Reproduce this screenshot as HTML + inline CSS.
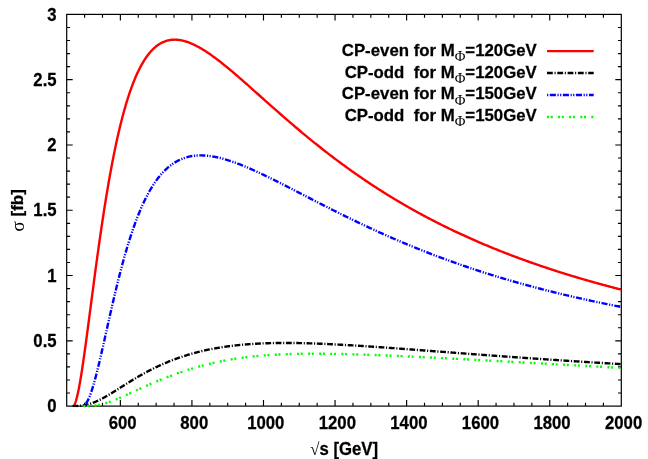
<!DOCTYPE html>
<html><head><meta charset="utf-8"><title>chart</title>
<style>
html,body{margin:0;padding:0;background:#fff;}
svg{display:block;will-change:transform;}
text{font-family:"Liberation Sans",sans-serif;font-weight:bold;fill:#000;stroke:#000;stroke-width:0.25px;}
.sym{font-family:"Liberation Serif",serif;font-weight:normal;stroke:none;}
</style></head><body>
<svg width="648" height="459" viewBox="0 0 648 459">
<rect width="648" height="459" fill="#fff"/>
<g stroke="#000" stroke-width="1.2" fill="none">
<rect x="66.7" y="14.4" width="554.5999999999999" height="391.70000000000005"/>
<path d="M84.59,406.1v-3.3 M84.59,14.4v3.3 M102.48,406.1v-3.3 M102.48,14.4v3.3 M120.37,406.1v-6.0 M120.37,14.4v6.0 M138.26,406.1v-3.3 M138.26,14.4v3.3 M156.15,406.1v-3.3 M156.15,14.4v3.3 M174.04,406.1v-3.3 M174.04,14.4v3.3 M191.93,406.1v-6.0 M191.93,14.4v6.0 M209.82,406.1v-3.3 M209.82,14.4v3.3 M227.71,406.1v-3.3 M227.71,14.4v3.3 M245.60,406.1v-3.3 M245.60,14.4v3.3 M263.49,406.1v-6.0 M263.49,14.4v6.0 M281.38,406.1v-3.3 M281.38,14.4v3.3 M299.27,406.1v-3.3 M299.27,14.4v3.3 M317.16,406.1v-3.3 M317.16,14.4v3.3 M335.05,406.1v-6.0 M335.05,14.4v6.0 M352.95,406.1v-3.3 M352.95,14.4v3.3 M370.84,406.1v-3.3 M370.84,14.4v3.3 M388.73,406.1v-3.3 M388.73,14.4v3.3 M406.62,406.1v-6.0 M406.62,14.4v6.0 M424.51,406.1v-3.3 M424.51,14.4v3.3 M442.40,406.1v-3.3 M442.40,14.4v3.3 M460.29,406.1v-3.3 M460.29,14.4v3.3 M478.18,406.1v-6.0 M478.18,14.4v6.0 M496.07,406.1v-3.3 M496.07,14.4v3.3 M513.96,406.1v-3.3 M513.96,14.4v3.3 M531.85,406.1v-3.3 M531.85,14.4v3.3 M549.74,406.1v-6.0 M549.74,14.4v6.0 M567.63,406.1v-3.3 M567.63,14.4v3.3 M585.52,406.1v-3.3 M585.52,14.4v3.3 M603.41,406.1v-3.3 M603.41,14.4v3.3 M66.7,393.04h3.3 M621.3,393.04h-3.3 M66.7,379.99h3.3 M621.3,379.99h-3.3 M66.7,366.93h3.3 M621.3,366.93h-3.3 M66.7,353.87h3.3 M621.3,353.87h-3.3 M66.7,340.82h6.0 M621.3,340.82h-6.0 M66.7,327.76h3.3 M621.3,327.76h-3.3 M66.7,314.70h3.3 M621.3,314.70h-3.3 M66.7,301.65h3.3 M621.3,301.65h-3.3 M66.7,288.59h3.3 M621.3,288.59h-3.3 M66.7,275.53h6.0 M621.3,275.53h-6.0 M66.7,262.48h3.3 M621.3,262.48h-3.3 M66.7,249.42h3.3 M621.3,249.42h-3.3 M66.7,236.36h3.3 M621.3,236.36h-3.3 M66.7,223.31h3.3 M621.3,223.31h-3.3 M66.7,210.25h6.0 M621.3,210.25h-6.0 M66.7,197.19h3.3 M621.3,197.19h-3.3 M66.7,184.14h3.3 M621.3,184.14h-3.3 M66.7,171.08h3.3 M621.3,171.08h-3.3 M66.7,158.02h3.3 M621.3,158.02h-3.3 M66.7,144.97h6.0 M621.3,144.97h-6.0 M66.7,131.91h3.3 M621.3,131.91h-3.3 M66.7,118.85h3.3 M621.3,118.85h-3.3 M66.7,105.80h3.3 M621.3,105.80h-3.3 M66.7,92.74h3.3 M621.3,92.74h-3.3 M66.7,79.68h6.0 M621.3,79.68h-6.0 M66.7,66.63h3.3 M621.3,66.63h-3.3 M66.7,53.57h3.3 M621.3,53.57h-3.3 M66.7,40.51h3.3 M621.3,40.51h-3.3 M66.7,27.46h3.3 M621.3,27.46h-3.3" stroke-width="1.15"/>
</g>
<clipPath id="c"><rect x="66.7" y="12.4" width="554.5999999999999" height="394.90000000000003"/></clipPath>
<g clip-path="url(#c)" fill="none" stroke-linecap="butt" stroke-linejoin="round">
<path d="M73.00,406.10 L73.03,406.07 L73.10,406.05 L73.18,406.02 L73.26,405.98 L73.35,405.93 L73.45,405.87 L73.55,405.78 L73.65,405.69 L73.77,405.57 L73.88,405.43 L74.01,405.27 L74.14,405.08 L74.27,404.88 L74.41,404.64 L74.55,404.37 L74.70,404.08 L74.85,403.76 L75.00,403.40 L75.16,403.01 L75.33,402.58 L75.50,402.12 L75.67,401.62 L75.85,401.09 L76.03,400.51 L76.21,399.90 L76.40,399.24 L76.59,398.55 L76.79,397.81 L76.99,397.03 L77.19,396.20 L77.40,395.33 L77.61,394.42 L77.82,393.46 L78.04,392.45 L78.26,391.40 L78.49,390.31 L78.72,389.17 L78.95,387.98 L79.18,386.74 L79.42,385.46 L79.66,384.13 L79.91,382.76 L80.15,381.34 L80.40,379.88 L80.66,378.37 L80.92,376.81 L81.18,375.21 L81.44,373.56 L81.71,371.87 L81.98,370.14 L82.25,368.36 L82.52,366.54 L82.80,364.67 L83.08,362.77 L83.37,360.82 L83.66,358.84 L83.95,356.81 L84.24,354.74 L84.53,352.64 L84.83,350.50 L85.13,348.32 L85.44,346.11 L85.75,343.86 L86.06,341.58 L86.37,339.27 L86.68,336.92 L87.00,334.54 L87.32,332.13 L87.65,329.70 L87.97,327.23 L88.30,324.74 L88.63,322.22 L88.97,319.67 L89.30,317.10 L89.64,314.51 L89.98,311.90 L90.33,309.26 L90.67,306.60 L91.02,303.93 L91.38,301.24 L91.73,298.53 L92.09,295.80 L92.45,293.06 L92.81,290.30 L93.17,287.53 L93.54,284.75 L93.91,281.96 L94.28,279.16 L94.66,276.35 L95.03,273.53 L95.41,270.71 L95.79,267.88 L96.18,265.04 L96.56,262.20 L96.95,259.36 L97.34,256.51 L97.74,253.67 L98.13,250.82 L98.53,247.98 L98.93,245.13 L99.33,242.29 L99.74,239.45 L100.15,236.62 L100.56,233.79 L100.97,230.96 L101.38,228.14 L101.80,225.33 L102.22,222.53 L102.64,219.74 L103.06,216.95 L103.49,214.18 L103.91,211.41 L104.34,208.66 L104.78,205.92 L105.21,203.20 L105.65,200.48 L106.09,197.78 L106.53,195.10 L106.97,192.43 L107.41,189.78 L107.86,187.14 L108.31,184.52 L108.76,181.92 L109.22,179.33 L109.67,176.77 L110.13,174.22 L110.59,171.69 L111.05,169.19 L111.52,166.70 L111.98,164.23 L112.45,161.79 L112.92,159.36 L113.40,156.96 L113.87,154.58 L114.35,152.22 L114.83,149.88 L115.31,147.57 L115.79,145.28 L116.27,143.02 L116.76,140.77 L117.25,138.56 L117.74,136.36 L118.24,134.19 L118.73,132.05 L119.23,129.93 L119.73,127.83 L120.23,125.76 L120.73,123.72 L121.24,121.70 L121.74,119.71 L122.25,117.74 L122.76,115.80 L123.28,113.89 L123.79,112.00 L124.31,110.13 L124.83,108.30 L125.35,106.49 L125.87,104.70 L126.40,102.94 L126.92,101.21 L127.45,99.51 L127.98,97.83 L128.52,96.18 L129.05,94.55 L129.59,92.95 L130.13,91.38 L130.67,89.83 L131.21,88.31 L131.75,86.81 L132.30,85.35 L132.85,83.90 L133.40,82.49 L133.95,81.10 L134.50,79.73 L135.06,78.39 L135.61,77.08 L136.17,75.79 L136.73,74.53 L137.29,73.29 L137.86,72.08 L138.43,70.90 L138.99,69.74 L139.56,68.60 L140.14,67.49 L140.71,66.40 L141.29,65.34 L141.86,64.30 L142.44,63.29 L143.02,62.30 L143.61,61.33 L144.19,60.39 L144.78,59.47 L145.37,58.58 L145.96,57.71 L146.55,56.86 L147.14,56.04 L147.74,55.23 L148.33,54.45 L148.93,53.70 L149.53,52.96 L150.14,52.25 L150.74,51.56 L151.35,50.89 L151.95,50.24 L152.56,49.62 L153.17,49.01 L153.79,48.43 L154.40,47.86 L155.02,47.32 L155.64,46.80 L156.26,46.30 L156.88,45.81 L157.50,45.35 L158.13,44.91 L158.75,44.49 L159.38,44.08 L160.01,43.70 L160.64,43.33 L161.28,42.98 L161.91,42.66 L162.55,42.35 L163.19,42.05 L163.83,41.78 L164.47,41.52 L165.12,41.28 L165.76,41.06 L166.41,40.86 L167.06,40.67 L167.71,40.50 L168.36,40.34 L169.02,40.21 L169.67,40.08 L170.33,39.98 L170.99,39.89 L171.65,39.81 L172.31,39.75 L172.98,39.71 L173.64,39.68 L174.31,39.67 L174.98,39.67 L175.65,39.68 L176.32,39.71 L176.99,39.75 L177.67,39.81 L178.35,39.88 L179.03,39.97 L179.71,40.06 L180.39,40.18 L181.07,40.30 L181.76,40.44 L182.44,40.59 L183.13,40.75 L183.82,40.92 L184.51,41.11 L185.21,41.31 L185.90,41.52 L186.60,41.74 L187.30,41.97 L188.00,42.22 L188.70,42.47 L189.40,42.74 L190.11,43.02 L190.81,43.31 L191.52,43.61 L192.23,43.91 L192.94,44.23 L193.65,44.56 L194.37,44.90 L195.08,45.25 L195.80,45.61 L196.52,45.98 L197.24,46.36 L197.96,46.74 L198.69,47.14 L199.41,47.54 L200.14,47.95 L200.87,48.38 L201.60,48.81 L202.33,49.24 L203.06,49.69 L203.79,50.14 L204.53,50.61 L205.27,51.08 L206.01,51.55 L206.75,52.04 L207.49,52.53 L208.23,53.03 L208.98,53.54 L209.73,54.05 L210.47,54.57 L211.22,55.10 L211.98,55.63 L212.73,56.17 L213.48,56.72 L214.24,57.27 L215.00,57.83 L215.76,58.39 L216.52,58.96 L217.28,59.54 L218.04,60.12 L218.81,60.71 L219.57,61.30 L220.34,61.90 L221.11,62.50 L221.88,63.11 L222.65,63.73 L223.43,64.34 L224.20,64.97 L224.98,65.60 L225.76,66.23 L226.54,66.86 L227.32,67.51 L228.10,68.15 L228.89,68.80 L229.67,69.46 L230.46,70.11 L231.25,70.77 L232.04,71.44 L232.83,72.11 L233.63,72.78 L234.42,73.46 L235.22,74.14 L236.01,74.82 L236.81,75.51 L237.61,76.20 L238.42,76.89 L239.22,77.59 L240.03,78.29 L240.83,78.99 L241.64,79.69 L242.45,80.40 L243.26,81.11 L244.07,81.82 L244.89,82.54 L245.70,83.26 L246.52,83.98 L247.34,84.70 L248.16,85.42 L248.98,86.15 L249.80,86.88 L250.62,87.61 L251.45,88.34 L252.27,89.08 L253.10,89.82 L253.93,90.55 L254.76,91.29 L255.60,92.03 L256.43,92.78 L257.26,93.52 L258.10,94.27 L258.94,95.02 L259.78,95.76 L260.62,96.51 L261.46,97.27 L262.31,98.02 L263.15,98.77 L264.00,99.53 L264.85,100.28 L265.70,101.04 L266.55,101.80 L267.40,102.55 L268.25,103.31 L269.11,104.07 L269.96,104.83 L270.82,105.59 L271.68,106.36 L272.54,107.12 L273.40,107.88 L274.27,108.64 L275.13,109.41 L276.00,110.17 L276.86,110.93 L277.73,111.70 L278.60,112.46 L279.48,113.23 L280.35,113.99 L281.22,114.76 L282.10,115.52 L282.98,116.29 L283.85,117.05 L284.73,117.82 L285.62,118.58 L286.50,119.35 L287.38,120.11 L288.27,120.88 L289.16,121.64 L290.04,122.41 L290.93,123.17 L291.82,123.93 L292.72,124.70 L293.61,125.46 L294.50,126.22 L295.40,126.98 L296.30,127.74 L297.20,128.51 L298.10,129.27 L299.00,130.03 L299.90,130.78 L300.81,131.54 L301.71,132.30 L302.62,133.06 L303.53,133.81 L304.44,134.57 L305.35,135.32 L306.26,136.08 L307.18,136.83 L308.09,137.58 L309.01,138.33 L309.93,139.09 L310.84,139.84 L311.77,140.58 L312.69,141.33 L313.61,142.08 L314.53,142.82 L315.46,143.57 L316.39,144.31 L317.32,145.05 L318.25,145.80 L319.18,146.54 L320.11,147.28 L321.04,148.01 L321.98,148.75 L322.92,149.49 L323.85,150.22 L324.79,150.96 L325.73,151.69 L326.67,152.42 L327.62,153.15 L328.56,153.88 L329.51,154.60 L330.45,155.33 L331.40,156.05 L332.35,156.78 L333.30,157.50 L334.25,158.22 L335.21,158.94 L336.16,159.66 L337.12,160.37 L338.08,161.09 L339.04,161.80 L339.99,162.51 L340.96,163.22 L341.92,163.93 L342.88,164.64 L343.85,165.34 L344.81,166.05 L345.78,166.75 L346.75,167.45 L347.72,168.15 L348.69,168.85 L349.67,169.55 L350.64,170.24 L351.62,170.94 L352.59,171.63 L353.57,172.32 L354.55,173.01 L355.53,173.69 L356.51,174.38 L357.49,175.06 L358.48,175.75 L359.46,176.43 L360.45,177.11 L361.44,177.78 L362.43,178.46 L363.42,179.13 L364.41,179.81 L365.40,180.48 L366.40,181.15 L367.40,181.81 L368.39,182.48 L369.39,183.14 L370.39,183.81 L371.39,184.47 L372.39,185.13 L373.40,185.78 L374.40,186.44 L375.41,187.09 L376.41,187.74 L377.42,188.39 L378.43,189.04 L379.44,189.69 L380.45,190.33 L381.47,190.98 L382.48,191.62 L383.50,192.26 L384.52,192.90 L385.53,193.53 L386.55,194.17 L387.57,194.80 L388.60,195.43 L389.62,196.06 L390.64,196.69 L391.67,197.31 L392.70,197.94 L393.73,198.56 L394.76,199.18 L395.79,199.80 L396.82,200.41 L397.85,201.03 L398.89,201.64 L399.92,202.25 L400.96,202.86 L402.00,203.47 L403.04,204.08 L404.08,204.68 L405.12,205.28 L406.16,205.88 L407.21,206.48 L408.25,207.08 L409.30,207.68 L410.35,208.27 L411.40,208.86 L412.45,209.45 L413.50,210.04 L414.55,210.63 L415.60,211.21 L416.66,211.79 L417.72,212.37 L418.77,212.95 L419.83,213.53 L420.89,214.11 L421.95,214.68 L423.02,215.25 L424.08,215.82 L425.15,216.39 L426.21,216.96 L427.28,217.52 L428.35,218.09 L429.42,218.65 L430.49,219.21 L431.56,219.77 L432.64,220.32 L433.71,220.88 L434.79,221.43 L435.86,221.98 L436.94,222.53 L438.02,223.08 L439.10,223.62 L440.18,224.17 L441.27,224.71 L442.35,225.25 L443.44,225.79 L444.52,226.33 L445.61,226.86 L446.70,227.39 L447.79,227.93 L448.88,228.46 L449.97,228.99 L451.07,229.51 L452.16,230.04 L453.26,230.56 L454.36,231.08 L455.45,231.60 L456.55,232.12 L457.65,232.64 L458.76,233.15 L459.86,233.66 L460.96,234.18 L462.07,234.69 L463.18,235.19 L464.28,235.70 L465.39,236.20 L466.50,236.71 L467.62,237.21 L468.73,237.71 L469.84,238.21 L470.96,238.70 L472.07,239.20 L473.19,239.69 L474.31,240.18 L475.43,240.67 L476.55,241.16 L477.67,241.65 L478.79,242.13 L479.92,242.62 L481.04,243.10 L482.17,243.58 L483.30,244.06 L484.43,244.53 L485.56,245.01 L486.69,245.48 L487.82,245.95 L488.96,246.42 L490.09,246.89 L491.23,247.36 L492.36,247.83 L493.50,248.29 L494.64,248.75 L495.78,249.21 L496.92,249.67 L498.07,250.13 L499.21,250.59 L500.36,251.04 L501.50,251.50 L502.65,251.95 L503.80,252.40 L504.95,252.85 L506.10,253.29 L507.25,253.74 L508.40,254.18 L509.56,254.63 L510.71,255.07 L511.87,255.51 L513.03,255.94 L514.19,256.38 L515.35,256.82 L516.51,257.25 L517.67,257.68 L518.84,258.11 L520.00,258.54 L521.17,258.97 L522.33,259.40 L523.50,259.82 L524.67,260.24 L525.84,260.66 L527.01,261.09 L528.19,261.50 L529.36,261.92 L530.53,262.34 L531.71,262.75 L532.89,263.17 L534.07,263.58 L535.24,263.99 L536.43,264.40 L537.61,264.80 L538.79,265.21 L539.97,265.61 L541.16,266.02 L542.35,266.42 L543.53,266.82 L544.72,267.22 L545.91,267.62 L547.10,268.01 L548.29,268.41 L549.49,268.80 L550.68,269.19 L551.88,269.59 L553.07,269.98 L554.27,270.36 L555.47,270.75 L556.67,271.14 L557.87,271.52 L559.07,271.90 L560.27,272.28 L561.48,272.67 L562.68,273.04 L563.89,273.42 L565.10,273.80 L566.30,274.17 L567.51,274.55 L568.73,274.92 L569.94,275.29 L571.15,275.66 L572.36,276.03 L573.58,276.40 L574.80,276.76 L576.01,277.13 L577.23,277.49 L578.45,277.85 L579.67,278.21 L580.89,278.57 L582.12,278.93 L583.34,279.29 L584.57,279.65 L585.79,280.00 L587.02,280.35 L588.25,280.71 L589.48,281.06 L590.71,281.41 L591.94,281.76 L593.17,282.10 L594.41,282.45 L595.64,282.80 L596.88,283.14 L598.12,283.48 L599.35,283.82 L600.59,284.16 L601.83,284.50 L603.08,284.84 L604.32,285.18 L605.56,285.51 L606.81,285.85 L608.05,286.18 L609.30,286.51 L610.55,286.85 L611.80,287.18 L613.05,287.50 L614.30,287.83 L615.55,288.16 L616.80,288.48 L618.06,288.81 L619.32,289.13 L620.57,289.45 L621.83,289.78 L623.09,290.10" stroke="#ff0000" stroke-width="2.4"/>
<path d="M72.60,406.10 L72.77,406.10 L72.95,406.09 L73.14,406.09 L73.33,406.09 L73.52,406.09 L73.72,406.09 L73.92,406.09 L74.12,406.08 L74.33,406.08 L74.55,406.08 L74.76,406.07 L74.98,406.07 L75.20,406.07 L75.43,406.06 L75.66,406.05 L75.89,406.05 L76.13,406.04 L76.37,406.03 L76.61,406.02 L76.85,406.01 L77.10,406.00 L77.36,405.99 L77.61,405.98 L77.87,405.96 L78.13,405.95 L78.40,405.93 L78.66,405.92 L78.94,405.90 L79.21,405.88 L79.49,405.85 L79.77,405.83 L80.05,405.80 L80.33,405.78 L80.62,405.75 L80.92,405.72 L81.21,405.68 L81.51,405.65 L81.81,405.61 L82.11,405.57 L82.42,405.53 L82.73,405.48 L83.04,405.43 L83.35,405.38 L83.67,405.33 L83.99,405.28 L84.31,405.22 L84.64,405.16 L84.96,405.10 L85.29,405.03 L85.63,404.96 L85.96,404.89 L86.30,404.81 L86.64,404.73 L86.99,404.65 L87.33,404.56 L87.68,404.47 L88.03,404.38 L88.39,404.28 L88.74,404.18 L89.10,404.08 L89.46,403.97 L89.83,403.86 L90.20,403.75 L90.56,403.63 L90.94,403.51 L91.31,403.38 L91.69,403.25 L92.07,403.12 L92.45,402.98 L92.83,402.84 L93.22,402.69 L93.60,402.54 L94.00,402.39 L94.39,402.23 L94.78,402.07 L95.18,401.91 L95.58,401.74 L95.99,401.56 L96.39,401.39 L96.80,401.20 L97.21,401.02 L97.62,400.83 L98.03,400.64 L98.45,400.44 L98.87,400.24 L99.29,400.03 L99.71,399.83 L100.14,399.61 L100.57,399.40 L101.00,399.18 L101.43,398.95 L101.86,398.73 L102.30,398.50 L102.74,398.26 L103.18,398.02 L103.62,397.78 L104.07,397.54 L104.52,397.29 L104.97,397.04 L105.42,396.78 L105.87,396.53 L106.33,396.27 L106.79,396.00 L107.25,395.73 L107.71,395.46 L108.18,395.19 L108.64,394.91 L109.11,394.64 L109.58,394.35 L110.06,394.07 L110.53,393.78 L111.01,393.49 L111.49,393.20 L111.97,392.91 L112.45,392.61 L112.94,392.31 L113.43,392.01 L113.92,391.70 L114.41,391.40 L114.90,391.09 L115.40,390.78 L115.90,390.47 L116.40,390.15 L116.90,389.84 L117.40,389.52 L117.91,389.20 L118.42,388.88 L118.93,388.56 L119.44,388.24 L119.95,387.91 L120.47,387.59 L120.99,387.26 L121.51,386.93 L122.03,386.60 L122.55,386.27 L123.08,385.94 L123.61,385.61 L124.14,385.27 L124.67,384.94 L125.20,384.60 L125.74,384.27 L126.27,383.93 L126.81,383.60 L127.36,383.26 L127.90,382.92 L128.44,382.58 L128.99,382.25 L129.54,381.91 L130.09,381.57 L130.64,381.23 L131.20,380.89 L131.75,380.55 L132.31,380.21 L132.87,379.87 L133.44,379.53 L134.00,379.20 L134.57,378.86 L135.13,378.52 L135.70,378.18 L136.27,377.84 L136.85,377.51 L137.42,377.17 L138.00,376.83 L138.58,376.50 L139.16,376.16 L139.74,375.83 L140.33,375.50 L140.91,375.16 L141.50,374.83 L142.09,374.50 L142.68,374.17 L143.27,373.84 L143.87,373.51 L144.47,373.18 L145.06,372.86 L145.67,372.53 L146.27,372.21 L146.87,371.88 L147.48,371.56 L148.09,371.24 L148.69,370.92 L149.31,370.60 L149.92,370.28 L150.53,369.97 L151.15,369.65 L151.77,369.34 L152.39,369.02 L153.01,368.71 L153.63,368.40 L154.26,368.10 L154.89,367.79 L155.51,367.48 L156.14,367.18 L156.78,366.88 L157.41,366.58 L158.05,366.28 L158.68,365.98 L159.32,365.68 L159.96,365.39 L160.61,365.10 L161.25,364.81 L161.90,364.52 L162.54,364.23 L163.19,363.94 L163.84,363.66 L164.50,363.38 L165.15,363.10 L165.81,362.82 L166.46,362.54 L167.12,362.27 L167.78,361.99 L168.45,361.72 L169.11,361.45 L169.78,361.18 L170.45,360.92 L171.12,360.65 L171.79,360.39 L172.46,360.13 L173.13,359.87 L173.81,359.62 L174.49,359.36 L175.17,359.11 L175.85,358.86 L176.53,358.61 L177.21,358.37 L177.90,358.12 L178.59,357.88 L179.28,357.64 L179.97,357.40 L180.66,357.16 L181.35,356.93 L182.05,356.70 L182.75,356.47 L183.45,356.24 L184.15,356.01 L184.85,355.79 L185.55,355.56 L186.26,355.34 L186.97,355.13 L187.67,354.91 L188.38,354.70 L189.10,354.48 L189.81,354.28 L190.52,354.07 L191.24,353.86 L191.96,353.66 L192.68,353.46 L193.40,353.26 L194.12,353.06 L194.85,352.86 L195.57,352.67 L196.30,352.48 L197.03,352.29 L197.76,352.10 L198.49,351.92 L199.23,351.74 L199.96,351.56 L200.70,351.38 L201.44,351.20 L202.18,351.03 L202.92,350.85 L203.66,350.68 L204.41,350.51 L205.15,350.35 L205.90,350.18 L206.65,350.02 L207.40,349.86 L208.16,349.70 L208.91,349.55 L209.67,349.39 L210.42,349.24 L211.18,349.09 L211.94,348.94 L212.70,348.80 L213.47,348.65 L214.23,348.51 L215.00,348.37 L215.77,348.23 L216.53,348.10 L217.31,347.96 L218.08,347.83 L218.85,347.70 L219.63,347.57 L220.40,347.45 L221.18,347.32 L221.96,347.20 L222.74,347.08 L223.53,346.96 L224.31,346.85 L225.10,346.73 L225.88,346.62 L226.67,346.51 L227.46,346.40 L228.26,346.29 L229.05,346.19 L229.84,346.08 L230.64,345.98 L231.44,345.88 L232.24,345.79 L233.04,345.69 L233.84,345.60 L234.64,345.51 L235.45,345.42 L236.26,345.33 L237.06,345.24 L237.87,345.16 L238.68,345.07 L239.50,344.99 L240.31,344.91 L241.13,344.83 L241.94,344.76 L242.76,344.68 L243.58,344.61 L244.40,344.54 L245.22,344.47 L246.05,344.40 L246.87,344.34 L247.70,344.28 L248.53,344.21 L249.36,344.15 L250.19,344.09 L251.02,344.04 L251.86,343.98 L252.69,343.93 L253.53,343.87 L254.37,343.82 L255.21,343.77 L256.05,343.73 L256.89,343.68 L257.74,343.63 L258.58,343.59 L259.43,343.55 L260.28,343.51 L261.13,343.47 L261.98,343.43 L262.83,343.40 L263.69,343.36 L264.54,343.33 L265.40,343.30 L266.26,343.27 L267.12,343.24 L267.98,343.22 L268.84,343.19 L269.71,343.17 L270.57,343.14 L271.44,343.12 L272.31,343.10 L273.18,343.08 L274.05,343.07 L274.92,343.05 L275.79,343.04 L276.67,343.02 L277.54,343.01 L278.42,343.00 L279.30,342.99 L280.18,342.98 L281.06,342.98 L281.95,342.97 L282.83,342.97 L283.72,342.96 L284.61,342.96 L285.50,342.96 L286.39,342.96 L287.28,342.96 L288.17,342.97 L289.07,342.97 L289.96,342.98 L290.86,342.98 L291.76,342.99 L292.66,343.00 L293.56,343.01 L294.46,343.02 L295.37,343.03 L296.27,343.04 L297.18,343.06 L298.09,343.07 L299.00,343.09 L299.91,343.11 L300.82,343.12 L301.73,343.14 L302.65,343.16 L303.56,343.18 L304.48,343.21 L305.40,343.23 L306.32,343.25 L307.24,343.28 L308.17,343.31 L309.09,343.33 L310.02,343.36 L310.94,343.39 L311.87,343.42 L312.80,343.45 L313.73,343.48 L314.66,343.51 L315.60,343.55 L316.53,343.58 L317.47,343.62 L318.41,343.65 L319.35,343.69 L320.29,343.73 L321.23,343.76 L322.17,343.80 L323.12,343.84 L324.06,343.88 L325.01,343.92 L325.96,343.97 L326.91,344.01 L327.86,344.05 L328.81,344.10 L329.76,344.14 L330.72,344.19 L331.67,344.23 L332.63,344.28 L333.59,344.33 L334.55,344.38 L335.51,344.43 L336.47,344.48 L337.44,344.53 L338.40,344.58 L339.37,344.63 L340.34,344.68 L341.31,344.74 L342.28,344.79 L343.25,344.84 L344.22,344.90 L345.20,344.95 L346.17,345.01 L347.15,345.07 L348.13,345.12 L349.11,345.18 L350.09,345.24 L351.07,345.30 L352.06,345.36 L353.04,345.42 L354.03,345.48 L355.01,345.54 L356.00,345.60 L356.99,345.66 L357.98,345.72 L358.98,345.79 L359.97,345.85 L360.96,345.91 L361.96,345.98 L362.96,346.04 L363.96,346.11 L364.96,346.17 L365.96,346.24 L366.96,346.31 L367.96,346.37 L368.97,346.44 L369.98,346.51 L370.98,346.58 L371.99,346.64 L373.00,346.71 L374.01,346.78 L375.03,346.85 L376.04,346.92 L377.06,346.99 L378.07,347.06 L379.09,347.13 L380.11,347.21 L381.13,347.28 L382.15,347.35 L383.18,347.42 L384.20,347.49 L385.22,347.57 L386.25,347.64 L387.28,347.71 L388.31,347.79 L389.34,347.86 L390.37,347.94 L391.40,348.01 L392.44,348.09 L393.47,348.16 L394.51,348.24 L395.55,348.31 L396.59,348.39 L397.63,348.47 L398.67,348.54 L399.71,348.62 L400.75,348.70 L401.80,348.77 L402.85,348.85 L403.89,348.93 L404.94,349.01 L405.99,349.08 L407.04,349.16 L408.10,349.24 L409.15,349.32 L410.21,349.40 L411.26,349.48 L412.32,349.56 L413.38,349.64 L414.44,349.72 L415.50,349.80 L416.56,349.88 L417.63,349.96 L418.69,350.04 L419.76,350.12 L420.82,350.20 L421.89,350.28 L422.96,350.36 L424.03,350.44 L425.11,350.52 L426.18,350.60 L427.25,350.68 L428.33,350.77 L429.41,350.85 L430.49,350.93 L431.56,351.01 L432.65,351.09 L433.73,351.18 L434.81,351.26 L435.89,351.34 L436.98,351.42 L438.07,351.50 L439.15,351.59 L440.24,351.67 L441.33,351.75 L442.43,351.84 L443.52,351.92 L444.61,352.00 L445.71,352.09 L446.80,352.17 L447.90,352.25 L449.00,352.33 L450.10,352.42 L451.20,352.50 L452.30,352.58 L453.41,352.67 L454.51,352.75 L455.62,352.84 L456.72,352.92 L457.83,353.00 L458.94,353.09 L460.05,353.17 L461.16,353.25 L462.28,353.34 L463.39,353.42 L464.51,353.51 L465.62,353.59 L466.74,353.67 L467.86,353.76 L468.98,353.84 L470.10,353.93 L471.22,354.01 L472.35,354.09 L473.47,354.18 L474.60,354.26 L475.73,354.35 L476.85,354.43 L477.98,354.51 L479.11,354.60 L480.25,354.68 L481.38,354.77 L482.51,354.85 L483.65,354.93 L484.79,355.02 L485.92,355.10 L487.06,355.18 L488.20,355.27 L489.34,355.35 L490.49,355.44 L491.63,355.52 L492.77,355.60 L493.92,355.69 L495.07,355.77 L496.21,355.86 L497.36,355.94 L498.51,356.02 L499.67,356.11 L500.82,356.19 L501.97,356.27 L503.13,356.36 L504.28,356.44 L505.44,356.52 L506.60,356.61 L507.76,356.69 L508.92,356.77 L510.08,356.86 L511.25,356.94 L512.41,357.02 L513.58,357.11 L514.74,357.19 L515.91,357.27 L517.08,357.36 L518.25,357.44 L519.42,357.52 L520.59,357.60 L521.77,357.69 L522.94,357.77 L524.12,357.85 L525.29,357.93 L526.47,358.02 L527.65,358.10 L528.83,358.18 L530.01,358.26 L531.20,358.35 L532.38,358.43 L533.57,358.51 L534.75,358.59 L535.94,358.67 L537.13,358.75 L538.32,358.84 L539.51,358.92 L540.70,359.00 L541.89,359.08 L543.09,359.16 L544.28,359.24 L545.48,359.33 L546.67,359.41 L547.87,359.49 L549.07,359.57 L550.27,359.65 L551.48,359.73 L552.68,359.81 L553.88,359.89 L555.09,359.97 L556.29,360.05 L557.50,360.13 L558.71,360.21 L559.92,360.29 L561.13,360.37 L562.34,360.45 L563.56,360.53 L564.77,360.61 L565.99,360.69 L567.20,360.77 L568.42,360.85 L569.64,360.93 L570.86,361.01 L572.08,361.09 L573.30,361.17 L574.52,361.25 L575.75,361.33 L576.97,361.41 L578.20,361.49 L579.43,361.56 L580.66,361.64 L581.89,361.72 L583.12,361.80 L584.35,361.88 L585.58,361.96 L586.82,362.03 L588.05,362.11 L589.29,362.19 L590.53,362.27 L591.77,362.35 L593.00,362.42 L594.25,362.50 L595.49,362.58 L596.73,362.66 L597.98,362.73 L599.22,362.81 L600.47,362.89 L601.71,362.96 L602.96,363.04 L604.21,363.12 L605.46,363.19 L606.72,363.27 L607.97,363.35 L609.22,363.42 L610.48,363.50 L611.73,363.57 L612.99,363.65 L614.25,363.73 L615.51,363.80 L616.77,363.88 L618.03,363.95 L619.29,364.03 L620.56,364.10 L621.82,364.18 L623.09,364.25" stroke="#000" stroke-width="2.4" stroke-dasharray="5.8 1.7 1.1 1.7"/>
<path d="M84.50,406.10 L84.64,404.93 L84.82,404.77 L85.00,404.60 L85.19,404.40 L85.38,404.20 L85.57,403.97 L85.77,403.73 L85.97,403.46 L86.17,403.18 L86.38,402.88 L86.59,402.57 L86.80,402.23 L87.02,401.86 L87.24,401.48 L87.47,401.08 L87.69,400.65 L87.92,400.20 L88.16,399.72 L88.40,399.22 L88.64,398.70 L88.88,398.15 L89.13,397.58 L89.38,396.99 L89.63,396.36 L89.89,395.71 L90.15,395.04 L90.41,394.34 L90.67,393.61 L90.94,392.86 L91.21,392.08 L91.49,391.27 L91.76,390.44 L92.04,389.58 L92.33,388.69 L92.61,387.77 L92.90,386.83 L93.19,385.87 L93.48,384.87 L93.78,383.85 L94.08,382.81 L94.38,381.73 L94.69,380.63 L94.99,379.51 L95.30,378.36 L95.62,377.18 L95.93,375.98 L96.25,374.76 L96.57,373.51 L96.90,372.24 L97.22,370.94 L97.55,369.62 L97.88,368.28 L98.21,366.91 L98.55,365.52 L98.89,364.11 L99.23,362.68 L99.58,361.23 L99.92,359.76 L100.27,358.27 L100.62,356.76 L100.98,355.23 L101.33,353.68 L101.69,352.11 L102.05,350.53 L102.41,348.93 L102.78,347.32 L103.15,345.69 L103.52,344.04 L103.89,342.38 L104.27,340.70 L104.65,339.02 L105.03,337.32 L105.41,335.61 L105.79,333.88 L106.18,332.15 L106.57,330.40 L106.96,328.65 L107.36,326.88 L107.75,325.11 L108.15,323.33 L108.55,321.54 L108.95,319.75 L109.36,317.95 L109.77,316.14 L110.18,314.33 L110.59,312.52 L111.00,310.70 L111.42,308.87 L111.84,307.05 L112.26,305.22 L112.68,303.39 L113.11,301.56 L113.53,299.73 L113.96,297.90 L114.39,296.07 L114.83,294.24 L115.26,292.41 L115.70,290.58 L116.14,288.76 L116.58,286.94 L117.03,285.12 L117.48,283.31 L117.92,281.50 L118.37,279.69 L118.83,277.89 L119.28,276.10 L119.74,274.31 L120.20,272.53 L120.66,270.76 L121.12,268.99 L121.59,267.24 L122.05,265.49 L122.52,263.74 L122.99,262.01 L123.47,260.29 L123.94,258.57 L124.42,256.87 L124.90,255.18 L125.38,253.49 L125.86,251.82 L126.35,250.16 L126.84,248.51 L127.33,246.87 L127.82,245.24 L128.31,243.63 L128.81,242.03 L129.30,240.44 L129.80,238.86 L130.30,237.30 L130.81,235.75 L131.31,234.22 L131.82,232.70 L132.33,231.19 L132.84,229.69 L133.35,228.21 L133.86,226.75 L134.38,225.30 L134.90,223.86 L135.42,222.44 L135.94,221.04 L136.47,219.65 L136.99,218.27 L137.52,216.91 L138.05,215.57 L138.58,214.24 L139.11,212.93 L139.65,211.63 L140.19,210.35 L140.72,209.08 L141.27,207.83 L141.81,206.60 L142.35,205.38 L142.90,204.18 L143.45,202.99 L144.00,201.82 L144.55,200.67 L145.10,199.53 L145.66,198.41 L146.22,197.31 L146.77,196.22 L147.34,195.14 L147.90,194.09 L148.46,193.05 L149.03,192.02 L149.60,191.01 L150.17,190.02 L150.74,189.05 L151.31,188.09 L151.89,187.14 L152.46,186.21 L153.04,185.30 L153.62,184.40 L154.21,183.52 L154.79,182.66 L155.38,181.81 L155.96,180.97 L156.55,180.15 L157.14,179.35 L157.74,178.56 L158.33,177.79 L158.93,177.03 L159.53,176.29 L160.13,175.56 L160.73,174.85 L161.33,174.15 L161.93,173.47 L162.54,172.80 L163.15,172.15 L163.76,171.51 L164.37,170.88 L164.98,170.27 L165.60,169.68 L166.22,169.09 L166.84,168.53 L167.46,167.97 L168.08,167.43 L168.70,166.90 L169.33,166.39 L169.95,165.89 L170.58,165.40 L171.21,164.93 L171.84,164.47 L172.48,164.02 L173.11,163.58 L173.75,163.16 L174.39,162.75 L175.03,162.35 L175.67,161.97 L176.31,161.60 L176.96,161.24 L177.61,160.89 L178.25,160.55 L178.90,160.23 L179.56,159.92 L180.21,159.61 L180.86,159.33 L181.52,159.05 L182.18,158.78 L182.84,158.52 L183.50,158.28 L184.16,158.04 L184.83,157.82 L185.49,157.61 L186.16,157.41 L186.83,157.22 L187.50,157.03 L188.18,156.86 L188.85,156.70 L189.53,156.55 L190.20,156.41 L190.88,156.28 L191.56,156.16 L192.25,156.04 L192.93,155.94 L193.62,155.85 L194.30,155.76 L194.99,155.69 L195.68,155.62 L196.37,155.56 L197.07,155.52 L197.76,155.48 L198.46,155.44 L199.16,155.42 L199.85,155.41 L200.56,155.40 L201.26,155.40 L201.96,155.41 L202.67,155.43 L203.38,155.46 L204.08,155.49 L204.80,155.53 L205.51,155.58 L206.22,155.63 L206.94,155.70 L207.65,155.77 L208.37,155.85 L209.09,155.93 L209.81,156.02 L210.53,156.12 L211.26,156.23 L211.98,156.34 L212.71,156.46 L213.44,156.58 L214.17,156.71 L214.90,156.85 L215.63,157.00 L216.37,157.15 L217.11,157.30 L217.84,157.47 L218.58,157.63 L219.32,157.81 L220.07,157.99 L220.81,158.17 L221.56,158.37 L222.30,158.56 L223.05,158.76 L223.80,158.97 L224.55,159.18 L225.30,159.40 L226.06,159.63 L226.81,159.85 L227.57,160.09 L228.33,160.32 L229.09,160.57 L229.85,160.81 L230.61,161.07 L231.38,161.32 L232.15,161.59 L232.91,161.85 L233.68,162.12 L234.45,162.40 L235.22,162.67 L236.00,162.96 L236.77,163.24 L237.55,163.54 L238.33,163.83 L239.10,164.13 L239.89,164.43 L240.67,164.74 L241.45,165.05 L242.24,165.36 L243.02,165.68 L243.81,166.00 L244.60,166.33 L245.39,166.66 L246.18,166.99 L246.98,167.32 L247.77,167.66 L248.57,168.00 L249.36,168.35 L250.16,168.70 L250.96,169.05 L251.77,169.40 L252.57,169.76 L253.38,170.12 L254.18,170.48 L254.99,170.85 L255.80,171.22 L256.61,171.59 L257.42,171.96 L258.23,172.34 L259.05,172.72 L259.87,173.10 L260.68,173.48 L261.50,173.87 L262.32,174.26 L263.14,174.65 L263.97,175.04 L264.79,175.44 L265.62,175.83 L266.45,176.23 L267.27,176.64 L268.10,177.04 L268.94,177.45 L269.77,177.85 L270.60,178.26 L271.44,178.68 L272.28,179.09 L273.11,179.51 L273.95,179.92 L274.80,180.34 L275.64,180.76 L276.48,181.18 L277.33,181.61 L278.17,182.03 L279.02,182.46 L279.87,182.89 L280.72,183.32 L281.58,183.75 L282.43,184.19 L283.28,184.62 L284.14,185.06 L285.00,185.49 L285.86,185.93 L286.72,186.37 L287.58,186.81 L288.44,187.25 L289.31,187.70 L290.17,188.14 L291.04,188.59 L291.91,189.03 L292.78,189.48 L293.65,189.93 L294.52,190.38 L295.40,190.83 L296.27,191.28 L297.15,191.73 L298.03,192.19 L298.90,192.64 L299.79,193.09 L300.67,193.55 L301.55,194.00 L302.44,194.46 L303.32,194.92 L304.21,195.38 L305.10,195.84 L305.99,196.30 L306.88,196.76 L307.77,197.22 L308.66,197.68 L309.56,198.14 L310.46,198.60 L311.35,199.06 L312.25,199.53 L313.15,199.99 L314.06,200.45 L314.96,200.92 L315.86,201.38 L316.77,201.85 L317.68,202.31 L318.58,202.78 L319.49,203.24 L320.41,203.71 L321.32,204.17 L322.23,204.64 L323.15,205.11 L324.06,205.57 L324.98,206.04 L325.90,206.51 L326.82,206.97 L327.74,207.44 L328.66,207.91 L329.59,208.37 L330.51,208.84 L331.44,209.31 L332.37,209.77 L333.30,210.24 L334.23,210.71 L335.16,211.17 L336.09,211.64 L337.02,212.11 L337.96,212.57 L338.90,213.04 L339.84,213.51 L340.77,213.97 L341.72,214.44 L342.66,214.90 L343.60,215.37 L344.54,215.84 L345.49,216.30 L346.44,216.76 L347.39,217.23 L348.34,217.69 L349.29,218.16 L350.24,218.62 L351.19,219.08 L352.15,219.55 L353.10,220.01 L354.06,220.47 L355.02,220.93 L355.98,221.39 L356.94,221.85 L357.90,222.31 L358.86,222.77 L359.83,223.23 L360.80,223.69 L361.76,224.15 L362.73,224.61 L363.70,225.07 L364.67,225.52 L365.64,225.98 L366.62,226.44 L367.59,226.89 L368.57,227.35 L369.55,227.80 L370.52,228.25 L371.50,228.71 L372.49,229.16 L373.47,229.61 L374.45,230.06 L375.44,230.51 L376.42,230.96 L377.41,231.41 L378.40,231.86 L379.39,232.31 L380.38,232.76 L381.37,233.20 L382.36,233.65 L383.36,234.10 L384.35,234.54 L385.35,234.98 L386.35,235.43 L387.35,235.87 L388.35,236.31 L389.35,236.75 L390.36,237.19 L391.36,237.63 L392.37,238.07 L393.37,238.51 L394.38,238.94 L395.39,239.38 L396.40,239.82 L397.41,240.25 L398.43,240.68 L399.44,241.12 L400.46,241.55 L401.47,241.98 L402.49,242.41 L403.51,242.84 L404.53,243.27 L405.55,243.70 L406.57,244.12 L407.60,244.55 L408.62,244.97 L409.65,245.40 L410.68,245.82 L411.70,246.25 L412.73,246.67 L413.77,247.09 L414.80,247.51 L415.83,247.93 L416.87,248.34 L417.90,248.76 L418.94,249.18 L419.98,249.59 L421.02,250.01 L422.06,250.42 L423.10,250.83 L424.14,251.24 L425.19,251.65 L426.23,252.06 L427.28,252.47 L428.33,252.88 L429.38,253.29 L430.43,253.69 L431.48,254.10 L432.53,254.50 L433.58,254.90 L434.64,255.30 L435.70,255.70 L436.75,256.10 L437.81,256.50 L438.87,256.90 L439.93,257.30 L440.99,257.69 L442.06,258.09 L443.12,258.48 L444.19,258.87 L445.25,259.27 L446.32,259.66 L447.39,260.05 L448.46,260.43 L449.53,260.82 L450.61,261.21 L451.68,261.59 L452.76,261.98 L453.83,262.36 L454.91,262.74 L455.99,263.13 L457.07,263.51 L458.15,263.88 L459.23,264.26 L460.31,264.64 L461.40,265.02 L462.48,265.39 L463.57,265.77 L464.66,266.14 L465.75,266.51 L466.84,266.88 L467.93,267.25 L469.02,267.62 L470.11,267.99 L471.21,268.35 L472.30,268.72 L473.40,269.08 L474.50,269.45 L475.60,269.81 L476.70,270.17 L477.80,270.53 L478.90,270.89 L480.01,271.25 L481.11,271.61 L482.22,271.96 L483.33,272.32 L484.44,272.67 L485.55,273.02 L486.66,273.38 L487.77,273.73 L488.88,274.08 L490.00,274.42 L491.11,274.77 L492.23,275.12 L493.35,275.46 L494.46,275.81 L495.58,276.15 L496.71,276.49 L497.83,276.84 L498.95,277.18 L500.08,277.51 L501.20,277.85 L502.33,278.19 L503.46,278.53 L504.59,278.86 L505.72,279.19 L506.85,279.53 L507.98,279.86 L509.11,280.19 L510.25,280.52 L511.38,280.85 L512.52,281.18 L513.66,281.50 L514.80,281.83 L515.94,282.15 L517.08,282.47 L518.22,282.80 L519.37,283.12 L520.51,283.44 L521.66,283.76 L522.80,284.08 L523.95,284.39 L525.10,284.71 L526.25,285.02 L527.40,285.34 L528.56,285.65 L529.71,285.96 L530.87,286.27 L532.02,286.58 L533.18,286.89 L534.34,287.20 L535.50,287.51 L536.66,287.81 L537.82,288.12 L538.98,288.42 L540.14,288.72 L541.31,289.02 L542.48,289.33 L543.64,289.62 L544.81,289.92 L545.98,290.22 L547.15,290.52 L548.32,290.81 L549.50,291.11 L550.67,291.40 L551.84,291.69 L553.02,291.99 L554.20,292.28 L555.38,292.57 L556.55,292.85 L557.73,293.14 L558.92,293.43 L560.10,293.71 L561.28,294.00 L562.47,294.28 L563.65,294.56 L564.84,294.85 L566.03,295.13 L567.22,295.41 L568.41,295.69 L569.60,295.96 L570.79,296.24 L571.98,296.52 L573.18,296.79 L574.38,297.06 L575.57,297.34 L576.77,297.61 L577.97,297.88 L579.17,298.15 L580.37,298.42 L581.57,298.69 L582.78,298.95 L583.98,299.22 L585.19,299.49 L586.39,299.75 L587.60,300.01 L588.81,300.28 L590.02,300.54 L591.23,300.80 L592.44,301.06 L593.65,301.32 L594.87,301.57 L596.08,301.83 L597.30,302.09 L598.52,302.34 L599.74,302.60 L600.95,302.85 L602.18,303.10 L603.40,303.35 L604.62,303.60 L605.84,303.85 L607.07,304.10 L608.29,304.35 L609.52,304.60 L610.75,304.84 L611.98,305.09 L613.21,305.33 L614.44,305.58 L615.67,305.82 L616.91,306.06 L618.14,306.30 L619.38,306.54 L620.61,306.78 L621.85,307.02 L623.09,307.25" stroke="#0000ff" stroke-width="2.4" stroke-dasharray="6.1 1.6 1.2 1.4 1.2 1.55" stroke-dashoffset="10.25"/>
<path d="M83.40,406.10 L83.51,406.10 L83.69,406.10 L83.87,406.10 L84.06,406.10 L84.25,406.10 L84.44,406.10 L84.64,406.09 L84.84,406.09 L85.04,406.09 L85.25,406.09 L85.46,406.09 L85.68,406.09 L85.90,406.08 L86.12,406.08 L86.34,406.08 L86.57,406.07 L86.80,406.07 L87.04,406.07 L87.27,406.06 L87.51,406.06 L87.76,406.05 L88.01,406.04 L88.26,406.04 L88.51,406.03 L88.77,406.02 L89.03,406.01 L89.29,406.00 L89.56,405.99 L89.82,405.98 L90.10,405.96 L90.37,405.95 L90.65,405.93 L90.93,405.92 L91.21,405.90 L91.50,405.88 L91.79,405.86 L92.08,405.83 L92.37,405.81 L92.67,405.79 L92.97,405.76 L93.27,405.73 L93.58,405.70 L93.89,405.67 L94.20,405.63 L94.51,405.60 L94.83,405.56 L95.15,405.52 L95.47,405.48 L95.79,405.43 L96.12,405.39 L96.45,405.34 L96.78,405.29 L97.11,405.23 L97.45,405.18 L97.79,405.12 L98.13,405.06 L98.48,405.00 L98.82,404.93 L99.17,404.86 L99.53,404.79 L99.88,404.72 L100.24,404.64 L100.60,404.56 L100.96,404.48 L101.32,404.40 L101.69,404.31 L102.06,404.22 L102.43,404.13 L102.80,404.03 L103.18,403.93 L103.56,403.83 L103.94,403.73 L104.32,403.62 L104.71,403.51 L105.10,403.39 L105.49,403.28 L105.88,403.16 L106.27,403.04 L106.67,402.91 L107.07,402.78 L107.47,402.65 L107.87,402.52 L108.28,402.38 L108.69,402.24 L109.10,402.10 L109.51,401.96 L109.93,401.81 L110.35,401.66 L110.76,401.51 L111.19,401.35 L111.61,401.19 L112.04,401.03 L112.46,400.87 L112.89,400.70 L113.33,400.53 L113.76,400.36 L114.20,400.19 L114.64,400.01 L115.08,399.83 L115.52,399.65 L115.97,399.47 L116.41,399.28 L116.86,399.10 L117.32,398.91 L117.77,398.71 L118.22,398.52 L118.68,398.32 L119.14,398.13 L119.60,397.93 L120.07,397.72 L120.53,397.52 L121.00,397.32 L121.47,397.11 L121.95,396.90 L122.42,396.69 L122.90,396.48 L123.37,396.26 L123.85,396.05 L124.34,395.83 L124.82,395.61 L125.31,395.39 L125.80,395.17 L126.29,394.95 L126.78,394.72 L127.27,394.50 L127.77,394.27 L128.27,394.04 L128.77,393.81 L129.27,393.58 L129.77,393.35 L130.28,393.12 L130.79,392.89 L131.30,392.65 L131.81,392.42 L132.32,392.18 L132.84,391.94 L133.36,391.71 L133.87,391.47 L134.40,391.23 L134.92,390.99 L135.44,390.75 L135.97,390.51 L136.50,390.26 L137.03,390.02 L137.56,389.78 L138.10,389.53 L138.63,389.29 L139.17,389.05 L139.71,388.80 L140.25,388.56 L140.80,388.31 L141.34,388.06 L141.89,387.82 L142.44,387.57 L142.99,387.32 L143.54,387.08 L144.10,386.83 L144.66,386.58 L145.21,386.33 L145.78,386.08 L146.34,385.83 L146.90,385.59 L147.47,385.34 L148.03,385.09 L148.60,384.84 L149.17,384.59 L149.75,384.34 L150.32,384.09 L150.90,383.84 L151.48,383.60 L152.06,383.35 L152.64,383.10 L153.22,382.85 L153.81,382.60 L154.39,382.35 L154.98,382.10 L155.57,381.86 L156.17,381.61 L156.76,381.36 L157.36,381.11 L157.95,380.87 L158.55,380.62 L159.15,380.37 L159.76,380.13 L160.36,379.88 L160.97,379.64 L161.57,379.39 L162.18,379.15 L162.80,378.90 L163.41,378.66 L164.02,378.41 L164.64,378.17 L165.26,377.93 L165.88,377.69 L166.50,377.44 L167.12,377.20 L167.75,376.96 L168.37,376.72 L169.00,376.48 L169.63,376.24 L170.26,376.00 L170.90,375.77 L171.53,375.53 L172.17,375.29 L172.81,375.06 L173.45,374.82 L174.09,374.59 L174.73,374.35 L175.38,374.12 L176.02,373.89 L176.67,373.66 L177.32,373.43 L177.97,373.20 L178.63,372.97 L179.28,372.74 L179.94,372.51 L180.59,372.29 L181.25,372.06 L181.92,371.84 L182.58,371.62 L183.24,371.39 L183.91,371.17 L184.58,370.95 L185.25,370.73 L185.92,370.51 L186.59,370.30 L187.26,370.08 L187.94,369.86 L188.62,369.65 L189.30,369.44 L189.98,369.22 L190.66,369.01 L191.34,368.80 L192.03,368.60 L192.71,368.39 L193.40,368.18 L194.09,367.98 L194.78,367.77 L195.48,367.57 L196.17,367.37 L196.87,367.17 L197.57,366.97 L198.27,366.77 L198.97,366.58 L199.67,366.38 L200.37,366.19 L201.08,366.00 L201.79,365.81 L202.50,365.62 L203.21,365.43 L203.92,365.24 L204.63,365.06 L205.35,364.88 L206.06,364.69 L206.78,364.51 L207.50,364.33 L208.22,364.16 L208.94,363.98 L209.67,363.81 L210.39,363.63 L211.12,363.46 L211.85,363.29 L212.58,363.12 L213.31,362.95 L214.05,362.79 L214.78,362.62 L215.52,362.46 L216.25,362.30 L216.99,362.14 L217.73,361.98 L218.48,361.83 L219.22,361.67 L219.97,361.52 L220.71,361.37 L221.46,361.21 L222.21,361.07 L222.96,360.92 L223.72,360.77 L224.47,360.63 L225.23,360.49 L225.98,360.35 L226.74,360.21 L227.50,360.07 L228.26,359.94 L229.03,359.80 L229.79,359.67 L230.56,359.54 L231.32,359.41 L232.09,359.28 L232.86,359.15 L233.64,359.03 L234.41,358.91 L235.18,358.79 L235.96,358.67 L236.74,358.55 L237.52,358.43 L238.30,358.32 L239.08,358.20 L239.87,358.09 L240.65,357.98 L241.44,357.87 L242.22,357.77 L243.01,357.66 L243.81,357.56 L244.60,357.45 L245.39,357.35 L246.19,357.25 L246.98,357.16 L247.78,357.06 L248.58,356.97 L249.38,356.87 L250.18,356.78 L250.99,356.69 L251.79,356.60 L252.60,356.52 L253.41,356.43 L254.22,356.35 L255.03,356.27 L255.84,356.19 L256.65,356.11 L257.47,356.03 L258.29,355.95 L259.10,355.88 L259.92,355.80 L260.74,355.73 L261.57,355.66 L262.39,355.59 L263.21,355.53 L264.04,355.46 L264.87,355.39 L265.70,355.33 L266.53,355.27 L267.36,355.21 L268.19,355.15 L269.03,355.09 L269.86,355.03 L270.70,354.98 L271.54,354.93 L272.38,354.87 L273.22,354.82 L274.07,354.77 L274.91,354.72 L275.76,354.68 L276.60,354.63 L277.45,354.59 L278.30,354.54 L279.15,354.50 L280.00,354.46 L280.86,354.42 L281.71,354.38 L282.57,354.34 L283.43,354.31 L284.29,354.27 L285.15,354.24 L286.01,354.20 L286.88,354.17 L287.74,354.14 L288.61,354.11 L289.47,354.08 L290.34,354.06 L291.21,354.03 L292.09,354.01 L292.96,353.98 L293.83,353.96 L294.71,353.94 L295.59,353.92 L296.46,353.90 L297.34,353.88 L298.22,353.86 L299.11,353.85 L299.99,353.83 L300.88,353.82 L301.76,353.80 L302.65,353.79 L303.54,353.78 L304.43,353.77 L305.32,353.76 L306.21,353.75 L307.11,353.74 L308.00,353.73 L308.90,353.73 L309.80,353.72 L310.70,353.72 L311.60,353.72 L312.50,353.71 L313.41,353.71 L314.31,353.71 L315.22,353.71 L316.13,353.71 L317.04,353.71 L317.95,353.72 L318.86,353.72 L319.77,353.72 L320.68,353.73 L321.60,353.73 L322.52,353.74 L323.43,353.75 L324.35,353.76 L325.27,353.76 L326.20,353.77 L327.12,353.78 L328.04,353.79 L328.97,353.81 L329.90,353.82 L330.83,353.83 L331.76,353.84 L332.69,353.86 L333.62,353.87 L334.55,353.89 L335.49,353.91 L336.42,353.92 L337.36,353.94 L338.30,353.96 L339.24,353.98 L340.18,354.00 L341.12,354.02 L342.07,354.04 L343.01,354.06 L343.96,354.08 L344.91,354.10 L345.86,354.12 L346.81,354.15 L347.76,354.17 L348.71,354.20 L349.67,354.22 L350.62,354.25 L351.58,354.27 L352.54,354.30 L353.50,354.33 L354.46,354.35 L355.42,354.38 L356.38,354.41 L357.34,354.44 L358.31,354.47 L359.28,354.50 L360.25,354.53 L361.21,354.56 L362.19,354.59 L363.16,354.62 L364.13,354.65 L365.10,354.69 L366.08,354.72 L367.06,354.75 L368.04,354.79 L369.01,354.82 L369.99,354.86 L370.98,354.89 L371.96,354.93 L372.94,354.96 L373.93,355.00 L374.92,355.04 L375.90,355.08 L376.89,355.11 L377.88,355.15 L378.88,355.19 L379.87,355.23 L380.86,355.27 L381.86,355.31 L382.86,355.35 L383.85,355.39 L384.85,355.43 L385.85,355.47 L386.85,355.51 L387.86,355.55 L388.86,355.59 L389.87,355.63 L390.87,355.68 L391.88,355.72 L392.89,355.76 L393.90,355.81 L394.91,355.85 L395.93,355.89 L396.94,355.94 L397.95,355.98 L398.97,356.03 L399.99,356.07 L401.01,356.12 L402.03,356.16 L403.05,356.21 L404.07,356.25 L405.09,356.30 L406.12,356.35 L407.14,356.40 L408.17,356.44 L409.20,356.49 L410.23,356.54 L411.26,356.59 L412.29,356.63 L413.33,356.68 L414.36,356.73 L415.40,356.78 L416.43,356.83 L417.47,356.88 L418.51,356.93 L419.55,356.98 L420.59,357.03 L421.64,357.08 L422.68,357.13 L423.73,357.18 L424.77,357.23 L425.82,357.28 L426.87,357.34 L427.92,357.39 L428.97,357.44 L430.02,357.49 L431.08,357.54 L432.13,357.60 L433.19,357.65 L434.24,357.70 L435.30,357.76 L436.36,357.81 L437.42,357.86 L438.49,357.92 L439.55,357.97 L440.61,358.02 L441.68,358.08 L442.74,358.13 L443.81,358.19 L444.88,358.24 L445.95,358.30 L447.02,358.35 L448.10,358.41 L449.17,358.46 L450.24,358.52 L451.32,358.58 L452.40,358.63 L453.48,358.69 L454.56,358.74 L455.64,358.80 L456.72,358.86 L457.80,358.91 L458.89,358.97 L459.97,359.03 L461.06,359.09 L462.15,359.14 L463.24,359.20 L464.33,359.26 L465.42,359.32 L466.51,359.38 L467.60,359.43 L468.70,359.49 L469.79,359.55 L470.89,359.61 L471.99,359.67 L473.09,359.73 L474.19,359.79 L475.29,359.85 L476.39,359.90 L477.50,359.96 L478.60,360.02 L479.71,360.08 L480.82,360.14 L481.92,360.20 L483.03,360.26 L484.15,360.32 L485.26,360.38 L486.37,360.44 L487.48,360.51 L488.60,360.57 L489.72,360.63 L490.83,360.69 L491.95,360.75 L493.07,360.81 L494.19,360.87 L495.32,360.93 L496.44,361.00 L497.57,361.06 L498.69,361.12 L499.82,361.18 L500.95,361.24 L502.08,361.30 L503.21,361.37 L504.34,361.43 L505.47,361.49 L506.60,361.55 L507.74,361.62 L508.87,361.68 L510.01,361.74 L511.15,361.81 L512.29,361.87 L513.43,361.93 L514.57,362.00 L515.71,362.06 L516.86,362.12 L518.00,362.19 L519.15,362.25 L520.30,362.31 L521.44,362.38 L522.59,362.44 L523.74,362.51 L524.90,362.57 L526.05,362.63 L527.20,362.70 L528.36,362.76 L529.51,362.83 L530.67,362.89 L531.83,362.96 L532.99,363.02 L534.15,363.09 L535.31,363.15 L536.48,363.22 L537.64,363.28 L538.80,363.35 L539.97,363.41 L541.14,363.48 L542.31,363.54 L543.48,363.61 L544.65,363.67 L545.82,363.74 L546.99,363.80 L548.17,363.87 L549.34,363.94 L550.52,364.00 L551.69,364.07 L552.87,364.13 L554.05,364.20 L555.23,364.26 L556.41,364.33 L557.60,364.40 L558.78,364.46 L559.97,364.53 L561.15,364.60 L562.34,364.66 L563.53,364.73 L564.72,364.80 L565.91,364.86 L567.10,364.93 L568.29,365.00 L569.49,365.06 L570.68,365.13 L571.88,365.20 L573.07,365.26 L574.27,365.33 L575.47,365.40 L576.67,365.46 L577.87,365.53 L579.08,365.60 L580.28,365.67 L581.48,365.73 L582.69,365.80 L583.90,365.87 L585.11,365.94 L586.31,366.00 L587.52,366.07 L588.74,366.14 L589.95,366.21 L591.16,366.27 L592.38,366.34 L593.59,366.41 L594.81,366.48 L596.03,366.54 L597.25,366.61 L598.47,366.68 L599.69,366.75 L600.91,366.82 L602.13,366.88 L603.36,366.95 L604.58,367.02 L605.81,367.09 L607.03,367.16 L608.26,367.22 L609.49,367.29 L610.72,367.36 L611.96,367.43 L613.19,367.50 L614.42,367.56 L615.66,367.63 L616.89,367.70 L618.13,367.77 L619.37,367.84 L620.61,367.91 L621.85,367.97 L623.09,368.04" stroke="#00ff00" stroke-width="2.4" stroke-dasharray="2 1.7 2 5.4"/>
</g>
<g font-size="17">
<text transform="translate(122.67,428.5) scale(0.985,1.03)" text-anchor="middle">600</text>
<text transform="translate(194.23,428.5) scale(0.985,1.03)" text-anchor="middle">800</text>
<text transform="translate(265.79,428.5) scale(0.985,1.03)" text-anchor="middle">1000</text>
<text transform="translate(337.35,428.5) scale(0.985,1.03)" text-anchor="middle">1200</text>
<text transform="translate(408.92,428.5) scale(0.985,1.03)" text-anchor="middle">1400</text>
<text transform="translate(480.48,428.5) scale(0.985,1.03)" text-anchor="middle">1600</text>
<text transform="translate(552.04,428.5) scale(0.985,1.03)" text-anchor="middle">1800</text>
<text transform="translate(623.60,428.5) scale(0.985,1.03)" text-anchor="middle">2000</text>
<text transform="translate(56.6,412.25) scale(0.985,1.04)" text-anchor="end">0</text>
<text transform="translate(56.6,346.97) scale(0.985,1.04)" text-anchor="end">0.5</text>
<text transform="translate(56.6,281.68) scale(0.985,1.04)" text-anchor="end">1</text>
<text transform="translate(56.6,216.40) scale(0.985,1.04)" text-anchor="end">1.5</text>
<text transform="translate(56.6,151.12) scale(0.985,1.04)" text-anchor="end">2</text>
<text transform="translate(56.6,85.83) scale(0.985,1.04)" text-anchor="end">2.5</text>
<text transform="translate(56.6,20.55) scale(0.985,1.04)" text-anchor="end">3</text>
<text transform="translate(344.2,454.5) scale(0.985,1.03)" text-anchor="middle"><tspan class="sym">&#8730;</tspan>s [GeV]</text>
<text transform="translate(23.2,210.4) rotate(-90)" text-anchor="middle"><tspan class="sym" font-size="19.5" dy="0.9">&#963;</tspan><tspan dy="-0.9"> [fb]</tspan></text>
<text transform="translate(536.8,55.55) scale(1,1.03)" font-size="16.8" text-anchor="end">CP-even for M<tspan class="sym" font-size="14.6" dy="4.9">&#934;</tspan><tspan dy="-4.9">=120GeV</tspan></text>
<path d="M547,51.10H593.7" stroke="#ff0000" stroke-width="2.4" fill="none"/>
<text transform="translate(536.8,77.50) scale(1,1.03)" font-size="16.8" text-anchor="end">CP-odd&#160;&#160;for M<tspan class="sym" font-size="14.6" dy="4.9">&#934;</tspan><tspan dy="-4.9">=120GeV</tspan></text>
<path d="M547,73.05H593.7" stroke="#000" stroke-width="2.4" fill="none" stroke-dasharray="5.8 1.7 1.1 1.7" stroke-dashoffset="0"/>
<text transform="translate(536.8,99.45) scale(1,1.03)" font-size="16.8" text-anchor="end">CP-even for M<tspan class="sym" font-size="14.6" dy="4.9">&#934;</tspan><tspan dy="-4.9">=150GeV</tspan></text>
<path d="M547,95.00H593.7" stroke="#0000ff" stroke-width="2.4" fill="none" stroke-dasharray="6.1 1.6 1.2 1.4 1.2 1.55" stroke-dashoffset="10.25"/>
<text transform="translate(536.8,121.40) scale(1,1.03)" font-size="16.8" text-anchor="end">CP-odd&#160;&#160;for M<tspan class="sym" font-size="14.6" dy="4.9">&#934;</tspan><tspan dy="-4.9">=150GeV</tspan></text>
<path d="M547,116.95H593.7" stroke="#00ff00" stroke-width="2.4" fill="none" stroke-dasharray="2 1.7 2 5.4" stroke-dashoffset="0"/>
</g>
</svg>
</body></html>
